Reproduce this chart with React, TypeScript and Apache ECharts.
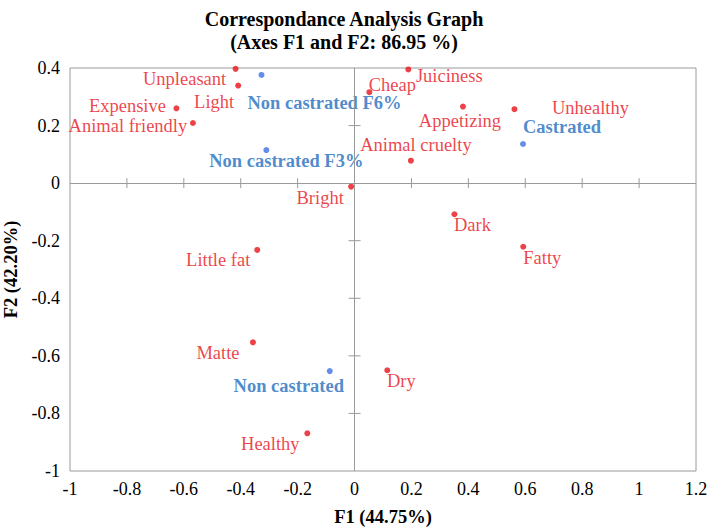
import React, { useEffect, useRef } from "react";
import * as echarts from "echarts";

// Attribute points (red)
const attrNames = [
  "Unpleasant", "Light", "Expensive", "Animal friendly", "Bright", "Cheap",
  "Juiciness", "Appetizing", "Unhealthy", "Animal cruelty", "Dark", "Fatty",
  "Little fat", "Matte", "Dry", "Healthy",
];
const attrF1 = [
  -0.418, -0.409, -0.626, -0.568, -0.012, 0.052,
  0.189, 0.381, 0.562, 0.198, 0.351, 0.593,
  -0.342, -0.357, 0.115, -0.166,
];
const attrF2 = [
  0.397, 0.339, 0.26, 0.209, -0.012, 0.316,
  0.395, 0.266, 0.257, 0.078, -0.108, -0.221,
  -0.232, -0.553, -0.65, -0.869,
];

// Group points (blue)
const groupNames = ["Non castrated F6%", "Non castrated F3%", "Castrated", "Non castrated"];
const groupF1 = [-0.327, -0.31, 0.592, -0.087];
const groupF2 = [0.376, 0.115, 0.136, -0.653];

// Ticks drawn on the zero lines
const xTickValues = [-0.8, -0.6, -0.4, -0.2, 0.2, 0.4, 0.6, 0.8, 1];
const yTickValues = [0.2, -0.2, -0.4, -0.6, -0.8];

// Label offsets (pixels, relative to each point), layout only
const attrLabelOffsets = [
  [-51, 10], [-24, 16], [-49, -2], [-65, 3], [-31, 11], [23, -7],
  [41, 7], [-3, 14], [76, -1], [5, -16], [18, 11], [19, 11],
  [-39, 10], [-35, 11], [14, 11], [-37, 11],
];
const groupLabelOffsets = [
  [63, 28], [20, 11], [39, -17], [-41, 15],
];

const RED = "#e8121a";
const BLUE_TEXT = "#1e6ebe";
const BLUE_DOT = "#3f6fe6";
const GRAY = "#9a9a9a";
const FONT = "Liberation Serif";

export default function App() {
  const ref = useRef<HTMLDivElement>(null);

  useEffect(() => {
    document.body.style.margin = "0";
    const chart = echarts.init(ref.current!, null, { renderer: "svg" });

    const attrData = attrNames.map((n, i) => ({
      name: n,
      value: [attrF1[i], attrF2[i]],
      label: { offset: attrLabelOffsets[i] },
    }));
    const groupData = groupNames.map((n, i) => ({
      name: n,
      value: [groupF1[i], groupF2[i]],
      label: { offset: groupLabelOffsets[i] },
    }));

    const tickData = [
      ...xTickValues.map((v) => [v, 0, 0]),
      ...yTickValues.map((v) => [0, v, 1]),
    ];

    chart.setOption({
      animation: false,
      backgroundColor: "#fff",
      title: {
        text: "Correspondance Analysis Graph\n(Axes F1 and F2: 86.95 %)",
        left: 339,
        textAlign: "center",
        top: 2,
        textStyle: {
          fontFamily: FONT,
          fontWeight: "bold",
          fontSize: 20,
          lineHeight: 23,
          color: "#000",
        },
      },
      grid: {
        left: 70,
        right: 13,
        top: 68,
        bottom: 56,
        containLabel: false,
        outerBoundsMode: "none",
        show: true,
        borderColor: GRAY,
        borderWidth: 1,
        backgroundColor: "transparent",
      },
      xAxis: {
        type: "value",
        min: -1,
        max: 1.2,
        interval: 0.2,
        position: "bottom",
        axisLine: { show: false, onZero: false },
        axisTick: { show: false },
        splitLine: { show: false },
        axisLabel: {
          fontFamily: FONT,
          fontSize: 18,
          color: "#000",
          margin: 9,
          formatter: (v: number) => String(Math.round(v * 10) / 10),
        },
        name: "F1 (44.75%)",
        nameLocation: "middle",
        nameGap: 36,
        nameTextStyle: { fontFamily: FONT, fontWeight: "bold", fontSize: 18.5, color: "#000" },
      },
      yAxis: {
        type: "value",
        min: -1,
        max: 0.4,
        interval: 0.2,
        position: "left",
        axisLine: { show: false, onZero: false },
        axisTick: { show: false },
        splitLine: { show: false },
        axisLabel: {
          fontFamily: FONT,
          fontSize: 18,
          color: "#000",
          margin: 10,
          formatter: (v: number) => String(Math.round(v * 10) / 10),
        },
        name: "F2 (42.20%)",
        nameLocation: "middle",
        nameGap: 47,
        nameTextStyle: { fontFamily: FONT, fontWeight: "bold", fontSize: 18.5, color: "#000" },
      },
      series: [
        {
          type: "custom",
          silent: true,
          z: 1,
          data: tickData,
          renderItem: (params: any, api: any) => {
            const x = api.value(0);
            const y = api.value(1);
            const dir = api.value(2);
            const p = api.coord([x, y]);
            if (dir === 0) {
              return {
                type: "line",
                shape: { x1: p[0], y1: p[1] - 5, x2: p[0], y2: p[1] + 5 },
                style: { stroke: GRAY, lineWidth: 1 },
              };
            }
            return {
              type: "line",
              shape: { x1: p[0] - 6, y1: p[1], x2: p[0] + 6, y2: p[1] },
              style: { stroke: GRAY, lineWidth: 1 },
            };
          },
          markLine: {
            silent: true,
            symbol: "none",
            label: { show: false },
            lineStyle: { color: GRAY, type: "solid", width: 1 },
            data: [{ xAxis: 0 }, { yAxis: 0 }],
          },
        },
        {
          type: "scatter",
          name: "Attributes",
          z: 3,
          symbolSize: 6,
          itemStyle: { color: RED },
          data: attrData,
          label: {
            show: true,
            position: "inside",
            formatter: "{b}",
            align: "center",
            verticalAlign: "middle",
            fontFamily: FONT,
            fontSize: 18.5,
            color: RED,
          },
        },
        {
          type: "scatter",
          name: "Groups",
          z: 3,
          symbolSize: 6,
          itemStyle: { color: BLUE_DOT },
          data: groupData,
          label: {
            show: true,
            position: "inside",
            formatter: "{b}",
            align: "center",
            verticalAlign: "middle",
            fontFamily: FONT,
            fontWeight: "bold",
            fontSize: 18.5,
            color: BLUE_TEXT,
          },
        },
      ],
    });

    return () => chart.dispose();
  }, []);

  return <div ref={ref} style={{ width: 709, height: 527 }} />;
}
